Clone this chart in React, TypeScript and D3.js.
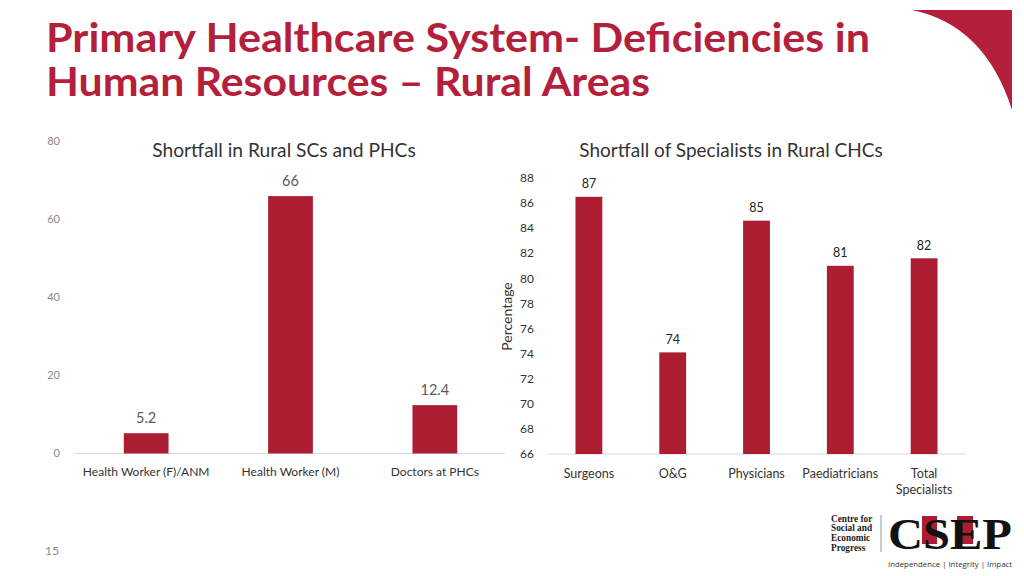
import React from "react";
import * as d3 from "d3";

const titleLines = ["Primary Healthcare System- Deficiencies in", "Human Resources – Rural Areas"];
const titleWidths = [824, 604];

const leftTitle = "Shortfall in Rural SCs and PHCs";
const leftCategories = ["Health Worker (F)/ANM", "Health Worker (M)", "Doctors at PHCs"];
const leftValues = [5.2, 66, 12.4];
const leftTicks = [0, 20, 40, 60, 80];

const rightTitle = "Shortfall of Specialists in Rural CHCs";
const rightCategories = ["Surgeons", "O&G", "Physicians", "Paediatricians", "Total Specialists"];
const rightValues = [86.5, 74.1, 84.6, 81.0, 81.6];
const rightTicks = [66, 68, 70, 72, 74, 76, 78, 80, 82, 84, 86, 88];
const rightAxisLabel = "Percentage";

const pageNumber = "15";
const logoLines = ["Centre for", "Social and", "Economic", "Progress"];
const logoMark = "CSEP";
const logoTagline = "Independence | Integrity | Impact";

const RED = "#AD1D32";
const TITLE_RED = "#B41F3B";
const FONT = "Lato, 'Noto Sans', sans-serif";

export default function App() {
  const xL = d3.scaleBand<string>().domain(leftCategories).range([74, 507]).paddingInner(0.69).paddingOuter(0.345);
  const yL = d3.scaleLinear().domain([0, 80]).range([453.5, 141.5]);

  const xR = d3.scaleBand<string>().domain(rightCategories).range([547, 966]).paddingInner(0.68).paddingOuter(0.34);
  const yR = d3.scaleLinear().domain([66, 88]).range([454, 178]);

  const cornerPath = "M912,10 Q985,25 1012,110 L1012,10 Z";

  return (
    <div style={{ position: "absolute", left: 0, top: 0 }}>
      <svg width={1024} height={576} style={{ display: "block", background: "#fff" }}>
        <rect x={0} y={0} width={1024} height={576} fill="#fff" />
        {/* corner decoration */}
        <path d={cornerPath} fill={TITLE_RED} />

        {/* main title */}
        {titleLines.map((t, i) => (
          <text key={i} x={46} y={52 + i * 43.5} fontFamily={FONT} fontWeight={700} fontSize={39.5} fill={TITLE_RED}
            textLength={titleWidths[i]} lengthAdjust="spacingAndGlyphs">
            {t}
          </text>
        ))}

        {/* LEFT CHART */}
        <text x={284} y={156.5} textAnchor="middle" fontFamily={FONT} fontSize={19.2} fill="#333">{leftTitle}</text>
        {leftTicks.map((t) => (
          <text key={t} x={60} y={yL(t)} dy="0.35em" textAnchor="end" fontFamily={FONT} fontSize={11} fill="#8a8a8a">{t}</text>
        ))}
        <line x1={74} x2={505} y1={yL(0)} y2={yL(0)} stroke="#d9d9d9" strokeWidth={1} />
        {leftValues.map((v, i) => {
          const c = leftCategories[i];
          const x = xL(c)!;
          return (
            <g key={c}>
              <rect x={x} y={yL(v)} width={xL.bandwidth()} height={yL(0) - yL(v)} fill={RED} />
              <text x={x + xL.bandwidth() / 2} y={yL(v) - 15} dy="0.35em" textAnchor="middle" fontFamily={FONT} fontSize={14.5} fill="#595959">{String(v)}</text>
              <text x={x + xL.bandwidth() / 2} y={472} dy="0.35em" textAnchor="middle" fontFamily={FONT} fontSize={12} fill="#333">{c}</text>
            </g>
          );
        })}

        {/* RIGHT CHART */}
        <text x={731} y={156.5} textAnchor="middle" fontFamily={FONT} fontSize={19} fill="#333">{rightTitle}</text>
        <text transform={`translate(507,316.5) rotate(-90)`} textAnchor="middle" dy="0.35em" fontFamily={FONT} fontSize={14} fill="#333">{rightAxisLabel}</text>
        {rightTicks.map((t) => (
          <text key={t} x={534} y={yR(t)} dy="0.35em" textAnchor="end" fontFamily={FONT} fontSize={12} fill="#333">{t}</text>
        ))}
        <line x1={547} x2={966} y1={yR(66)} y2={yR(66)} stroke="#d9d9d9" strokeWidth={1} />
        {rightValues.map((v, i) => {
          const c = rightCategories[i];
          const x = xR(c)!;
          const cx = x + xR.bandwidth() / 2;
          const words = c === "Total Specialists" ? ["Total", "Specialists"] : [c];
          return (
            <g key={c}>
              <rect x={x} y={yR(v)} width={xR.bandwidth()} height={yR(66) - yR(v)} fill={RED} />
              <text x={cx} y={yR(v) - 13} dy="0.35em" textAnchor="middle" fontFamily={FONT} fontSize={12.5} fill="#222">{Math.round(v)}</text>
              {words.map((w, j) => (
                <text key={j} x={cx} y={473.5 + j * 16.5} dy="0.35em" textAnchor="middle" fontFamily={FONT} fontSize={12.5} fill="#333">{w}</text>
              ))}
            </g>
          );
        })}

        {/* page number */}
        <text x={45} y={551} dy="0.35em" fontFamily={FONT} fontSize={12} fill="#8a8a8a">{pageNumber}</text>

        {/* logo */}
        {logoLines.map((l, i) => (
          <text key={i} x={831} y={521.5 + i * 9.8} fontFamily="'Liberation Serif', serif" fontWeight={700} fontSize={9.3} fill="#222">{l}</text>
        ))}
        <line x1={881} x2={881} y1={515} y2={552} stroke="#999" strokeWidth={1} />
        <rect x={922} y={516} width={15} height={28} fill={RED} />
        <rect x={957} y={516} width={16} height={28} fill={RED} />
        <text x={888} y={549} fontFamily="'Liberation Serif', serif" fontWeight={700} fontSize={45} fill="#111" textLength={124} lengthAdjust="spacingAndGlyphs">{logoMark}</text>
        <text x={888} y={566.5} fontFamily="'Open Sans', sans-serif" fontSize={7.5} fill="#333" textLength={124} lengthAdjust="spacingAndGlyphs">{logoTagline}</text>
      </svg>
    </div>
  );
}
